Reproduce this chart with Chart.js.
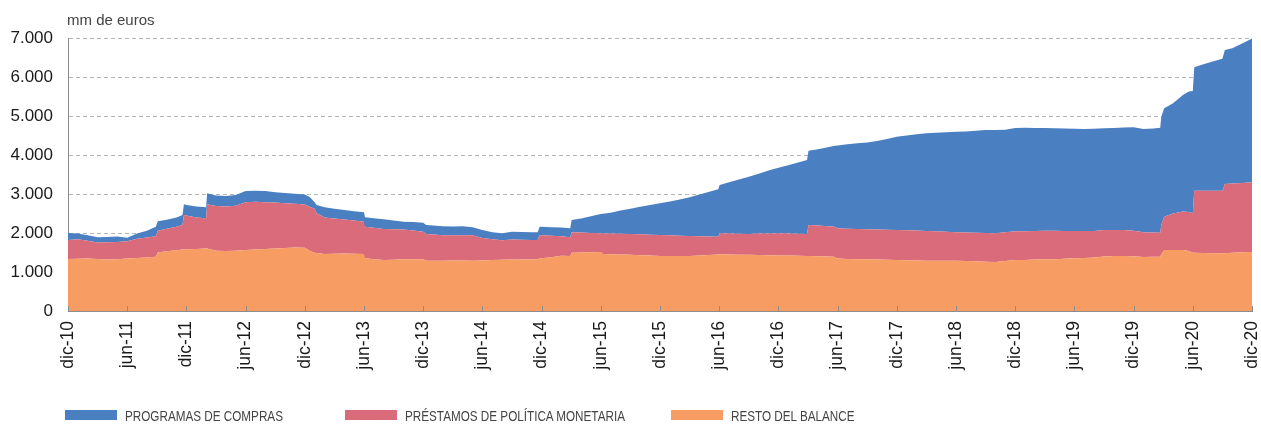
<!DOCTYPE html>
<html>
<head>
<meta charset="utf-8">
<script src="https://cdn.jsdelivr.net/npm/chart.js@4.4.1/dist/chart.umd.min.js"></script>
<style>
  body { margin: 0; background: #fff; }
  #wrap { position: relative; width: 1261px; height: 424px; font-family: "Liberation Sans", Arial, sans-serif; }
  #unit { position: absolute; left: 67px; top: 12px; font-size: 15px; line-height: 15px; color: #444; }
  .leg { position: absolute; top: 410px; height: 12px; }
  .leg .box { position: absolute; left: 0; top: 0; width: 52px; height: 10px; }
  .leg .txt { position: absolute; left: 60px; top: -2px; font-size: 15px; line-height: 15px; color: #444;
              white-space: nowrap; transform: scaleX(0.78); transform-origin: left center; }
</style>
</head>
<body>
<div id="wrap">
  <canvas id="canvas1" width="1261" height="424"></canvas>
  <div id="unit">mm de euros</div>
  <div class="leg" style="left:65px"><div class="box" style="background:#4a7fc1"></div><div class="txt">PROGRAMAS DE COMPRAS</div></div>
  <div class="leg" style="left:345px"><div class="box" style="background:#da6b7b"></div><div class="txt">PRÉSTAMOS DE POLÍTICA MONETARIA</div></div>
  <div class="leg" style="left:671px"><div class="box" style="background:#f79c62"></div><div class="txt">RESTO DEL BALANCE</div></div>
</div>
<script>
// months since dic-10 (weekly data, extra points at the jumps)
const meses = [
  0, 1, 2, 3, 4, 5, 6, 7, 8, 8.9, 9.1, 10, 11, 11.6, 11.75,
  12, 13, 14, 14.1, 15, 16, 17, 18, 19, 20, 21, 22, 23,
  24, 24.5, 25, 25.2, 26, 27, 28, 29, 30, 30.1, 31, 32, 33, 34, 35,
  36, 36.3, 37, 38, 39, 40, 41, 42, 43, 44, 45, 46, 47, 47.6, 47.8,
  48, 49, 50, 50.9, 51.05, 52, 53, 54, 54.2, 55, 56, 57, 58, 59,
  60, 61, 62, 63, 64, 65, 65.9, 66.05, 67, 68, 69, 70, 71,
  72, 73, 74, 74.9, 75.05, 76, 77, 77.6, 78, 79, 80, 81, 82, 83,
  84, 85, 86, 87, 88, 89, 90, 91, 92, 93, 94, 95,
  96, 97, 98, 99, 100, 101, 102, 103, 104, 105, 106, 107,
  108, 109, 110, 110.7, 110.8, 111.1, 112, 113, 113.6, 114, 114.15, 115, 116, 117, 117.25, 118, 119, 120
];
const resto = [
  1333, 1340, 1345, 1335, 1320, 1330, 1345, 1360, 1375, 1390, 1500, 1530, 1560, 1580, 1585,
  1585, 1590, 1600, 1600, 1545, 1540, 1545, 1565, 1580, 1590, 1605, 1615, 1630,
  1620, 1545, 1495, 1490, 1462, 1470, 1477, 1470, 1460, 1350, 1330, 1307, 1315, 1325, 1325,
  1325, 1290, 1290, 1290, 1295, 1295, 1290, 1295, 1308, 1312, 1318, 1322, 1325, 1330, 1345,
  1350, 1376, 1419, 1410, 1496, 1500, 1508, 1513, 1462, 1458, 1448, 1440, 1430, 1420,
  1412, 1410, 1410, 1410, 1420, 1435, 1450, 1453, 1450, 1445, 1440, 1436, 1430,
  1425, 1420, 1415, 1410, 1410, 1405, 1400, 1393, 1345, 1335, 1328, 1325, 1320, 1315,
  1308, 1303, 1298, 1290, 1290, 1290, 1290, 1285, 1275, 1265, 1258, 1280,
  1305, 1310, 1318, 1325, 1330, 1340, 1350, 1360, 1370, 1400, 1410, 1410,
  1405, 1385, 1390, 1393, 1450, 1564, 1564, 1564, 1540, 1496, 1496, 1490, 1482, 1480, 1482, 1495, 1505, 1513
];
const prestamos = [
  487, 500, 455, 420, 440, 440, 445, 490, 510, 525, 560, 580, 600, 625, 876,
  865, 810, 776, 1135, 1145, 1140, 1155, 1225, 1220, 1200, 1175, 1150, 1120,
  1110, 1130, 1125, 1014, 938, 900, 868, 850, 830, 812, 805, 795, 783, 765, 740,
  709, 684, 670, 655, 647, 645, 655, 575, 532, 503, 517, 508, 497, 490, 604,
  595, 554, 496, 479, 521, 510, 492, 478, 528, 527, 530, 532, 535, 538,
  538, 530, 520, 513, 498, 477, 456, 538, 535, 535, 535, 549, 560,
  566, 565, 563, 564, 795, 785, 775, 772, 780, 775, 772, 769, 770, 770,
  769, 767, 764, 761, 752, 740, 730, 727, 730, 735, 733, 740,
  738, 738, 734, 731, 725, 711, 701, 691, 681, 675, 667, 665,
  655, 632, 620, 615, 750, 855, 936, 986, 1000, 1008, 1589, 1595, 1603, 1605, 1774, 1775, 1780, 1786
];
const compras = [
  180, 150, 140, 135, 135, 140, 90, 135, 175, 245, 240, 230, 240, 256, 274,
  270, 280, 282, 282, 270, 269, 275, 290, 285, 287, 265, 260, 255,
  260, 245, 170, 216, 260, 250, 245, 240, 240, 240, 245, 248, 222, 200, 215,
  231, 231, 230, 225, 223, 230, 205, 210, 180, 180, 195, 195, 198, 197, 213,
  215, 220, 225, 230, 316, 360, 430, 496, 505, 535, 602, 648, 705, 762,
  811, 870, 930, 992, 1067, 1143, 1214, 1240, 1315, 1390, 1465, 1535, 1610,
  1684, 1755, 1832, 1898, 1906, 1960, 2025, 2066, 2120, 2165, 2200, 2226, 2270, 2325,
  2393, 2430, 2468, 2505, 2528, 2555, 2576, 2593, 2620, 2640, 2649, 2630,
  2647, 2652, 2643, 2634, 2630, 2627, 2619, 2616, 2621, 2609, 2618, 2630,
  2650, 2650, 2670, 2692, 2775, 2778, 2830, 2990, 3090, 3137, 3163, 3235, 3315, 3385, 3436, 3470, 3575, 3690
];
const etiquetasX = ['dic-10', 'jun-11', 'dic-11', 'jun-12', 'dic-12', 'jun-13', 'dic-13', 'jun-14',
  'dic-14', 'jun-15', 'dic-15', 'jun-16', 'dic-16', 'jun-17', 'dic-17', 'jun-18', 'dic-18',
  'jun-19', 'dic-19', 'jun-20', 'dic-20'];
const etiquetasY = ['0', '1.000', '2.000', '3.000', '4.000', '5.000', '6.000', '7.000'];

const puntos = (serie) => meses.map((m, i) => ({ x: m, y: serie[i] }));

// small tick marks pointing up into the plot, like the original
const ticksDentro = {
  id: 'ticksDentro',
  afterDatasetsDraw(chart) {
    const xs = chart.scales.x;
    const c = chart.ctx;
    const bottom = chart.chartArea.bottom;
    c.save();
    c.strokeStyle = '#8c8c8c';
    c.lineWidth = 1;
    xs.ticks.forEach(t => {
      const px = Math.round(xs.getPixelForValue(t.value)) + 0.5;
      c.beginPath();
      c.moveTo(px, bottom);
      c.lineTo(px, bottom - 5);
      c.stroke();
    });
    c.restore();
  }
};

const ctx1 = document.getElementById('canvas1').getContext('2d');

const myChart1 = new Chart(ctx1, {
  type: 'line',
  data: {
    datasets: [{
      label: 'RESTO DEL BALANCE',
      data: puntos(resto),
      backgroundColor: '#f79c62',
      borderWidth: 0,
      fill: 'origin'
    }, {
      label: 'PRÉSTAMOS DE POLÍTICA MONETARIA',
      data: puntos(prestamos),
      backgroundColor: '#da6b7b',
      borderWidth: 0,
      fill: '-1'
    }, {
      label: 'PROGRAMAS DE COMPRAS',
      data: puntos(compras),
      backgroundColor: '#4a7fc1',
      borderWidth: 0,
      fill: '-1'
    }]
  },
  options: {
    responsive: false,
    animation: false,
    devicePixelRatio: 1,
    layout: { padding: { top: 38, right: 9, left: 0, bottom: 0 } },
    elements: { point: { radius: 0 }, line: { tension: 0 } },
    plugins: { legend: { display: false }, tooltip: { enabled: false } },
    scales: {
      x: {
        type: 'linear',
        min: 0,
        max: 120,
        grid: { display: false, drawTicks: false },
        border: { display: true, color: '#8c8c8c', width: 1 },
        ticks: {
          stepSize: 6,
          autoSkip: false,
          maxRotation: 90,
          minRotation: 90,
          padding: 10,
          color: '#1a1a1a',
          font: { family: 'Liberation Sans', size: 17.5 },
          callback: (v) => etiquetasX[v / 6]
        },
        afterFit: (s) => { s.height = 113; s.paddingLeft = 0; s.paddingRight = 0; }
      },
      y: {
        stacked: true,
        min: 0,
        max: 7000,
        grid: {
          color: (c) => c.tick.value === 0 ? 'rgba(0,0,0,0)' : '#b4b4b4',
          drawTicks: false,
          lineWidth: 1
        },
        border: { display: true, color: '#8c8c8c', width: 1, dash: [4, 3] },
        ticks: {
          stepSize: 1000,
          padding: 15,
          color: '#1a1a1a',
          font: { family: 'Liberation Sans', size: 17 },
          callback: (v) => etiquetasY[v / 1000]
        },
        afterFit: (s) => { s.width = 68; s.paddingTop = 0; s.paddingBottom = 0; }
      }
    }
  },
  plugins: [ticksDentro]
});
</script>
</body>
</html>
